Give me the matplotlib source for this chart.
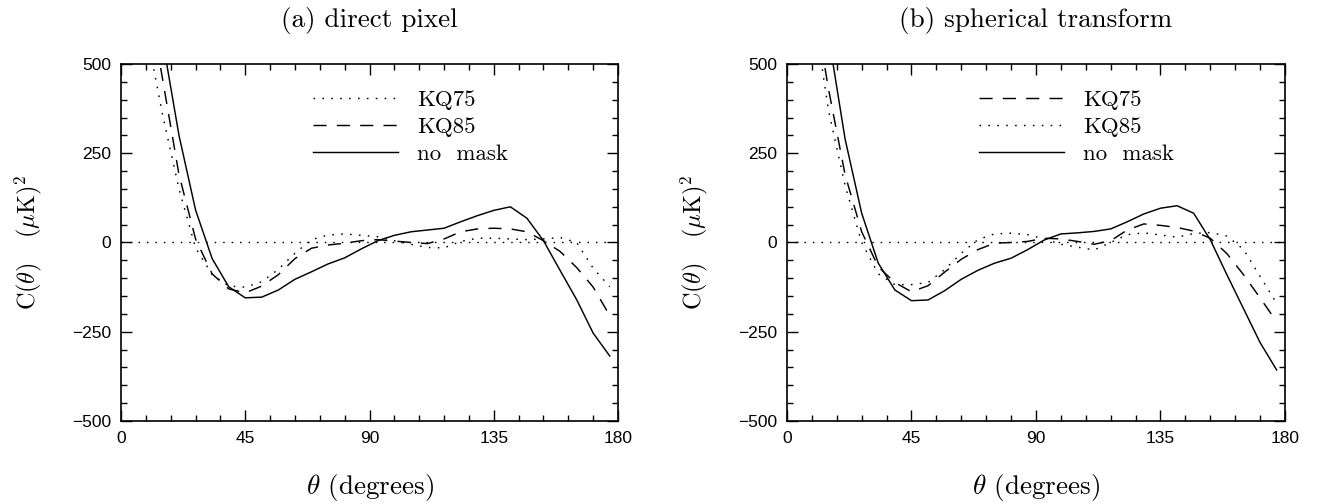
import matplotlib
matplotlib.use('Agg')
import matplotlib.pyplot as plt
from matplotlib.ticker import MultipleLocator

plt.rcParams['mathtext.fontset'] = 'cm'
plt.rcParams['font.family'] = ['Liberation Sans', 'DejaVu Sans']

# angular separation (degrees)
theta = [3, 9, 15, 21, 27, 33, 39, 45, 51, 57, 63, 69, 75, 81, 87,
         93, 99, 105, 111, 117, 123, 129, 135, 141, 147, 153, 159, 165, 171, 177]

# (a) direct pixel
a_kq75 = [1000, 600, 360, 150, -15, -90, -122, -125, -110, -75, -30, 8, 21, 24, 20,
          16, 5, -5, -14, -15, 3, 12, 12, 10, 8, 10, 14, 0, -72, -124]
a_kq85 = [1100, 730, 460, 190, 10, -88, -130, -141, -122, -90, -45, -16, -7, -2, 5,
          8, 4, 0, -3, 10, 30, 38, 40, 38, 30, 5, -25, -70, -125, -205]
a_nomask = [1400, 950, 570, 300, 91, -45, -124, -155, -153, -133, -103, -82, -60, -43, -18,
            5, 20, 30, 35, 40, 58, 75, 90, 100, 68, 5, -78, -160, -254, -318]

# (b) spherical transform
b_kq75 = [1150, 710, 430, 190, 30, -68, -112, -138, -121, -83, -47, -20, -2, 0, 3,
          12, 10, 3, -5, 5, 35, 52, 48, 42, 32, 12, -31, -90, -155, -222]
b_kq85 = [1050, 680, 370, 160, 0, -88, -118, -118, -112, -76, -30, 8, 24, 26, 22,
          10, -5, -13, -21, 0, 22, 27, 21, 15, 25, 28, 18, -19, -95, -170]
b_nomask = [1400, 950, 580, 290, 82, -58, -133, -163, -161, -135, -103, -78, -58, -44, -20,
            7, 24, 27, 31, 38, 58, 80, 96, 103, 82, 8, -90, -185, -280, -357]

dot = (0, (1.1, 5))
dash = (0, (9, 7))
lw = 1.05

fig = plt.figure(figsize=(13.24, 5.04), dpi=100)
ax1 = fig.add_axes([0.0914, 0.1647, 0.3754, 0.7083])
ax2 = fig.add_axes([0.5944, 0.1647, 0.3761, 0.7083])


def setup(ax, title):
    ax.axhline(0, color='black', lw=1.0, ls=dot)
    ax.set_xlim(0, 180)
    ax.set_ylim(-500, 500)
    ax.xaxis.set_major_locator(MultipleLocator(45))
    ax.xaxis.set_minor_locator(MultipleLocator(9))
    ax.yaxis.set_major_locator(MultipleLocator(250))
    ax.yaxis.set_minor_locator(MultipleLocator(50))
    ax.tick_params(which='both', direction='in', top=True, right=True,
                   labelsize=12.5, pad=7, width=1)
    ax.tick_params(which='major', length=8)
    ax.tick_params(which='minor', length=4.5)
    for s in ax.spines.values():
        s.set_linewidth(1.2)
    ax.set_title(title, family='cmr10', fontsize=19.5, pad=27)
    ax.set_xlabel(r'$\theta$ (degrees)', family='cmr10', fontsize=19.5, labelpad=19)
    ax.set_ylabel(r'C($\theta$)   ($\mu$K)$^2$', family='cmr10', fontsize=17.5, labelpad=20)


setup(ax1, '(a) direct pixel')
ax1.plot(theta, a_kq75, color='black', lw=lw, ls=dot, label='KQ75')
ax1.plot(theta, a_kq85, color='black', lw=lw, ls=dash, label='KQ85')
ax1.plot(theta, a_nomask, color='black', lw=lw, ls='-', label='no  mask')

setup(ax2, '(b) spherical transform')
ax2.plot(theta, b_kq75, color='black', lw=lw, ls=dash, label='KQ75')
ax2.plot(theta, b_kq85, color='black', lw=lw, ls=dot, label='KQ85')
ax2.plot(theta, b_nomask, color='black', lw=lw, ls='-', label='no  mask')

for ax in (ax1, ax2):
    ax.legend(loc='upper left', bbox_to_anchor=(0.386, 0.927), frameon=False,
              prop={'family': 'cmr10', 'size': 16.5}, handlelength=3.7,
              handletextpad=0.85, labelspacing=0.3, borderpad=0, borderaxespad=0)

fig.savefig('out.png', dpi=100)
